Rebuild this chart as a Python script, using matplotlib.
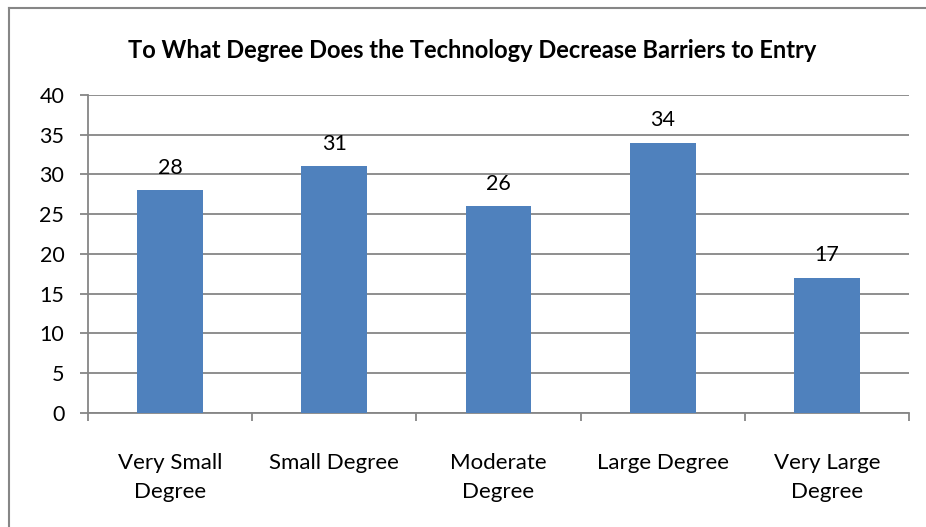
import numpy as np
import matplotlib.pyplot as plt
from matplotlib.lines import Line2D

# Dati
categorie = ['Very Small\nDegree', 'Small Degree', 'Moderate\nDegree', 'Large Degree', 'Very Large\nDegree']
valori = [28, 31, 26, 34, 17]
titolo = 'To What Degree Does the Technology Decrease Barriers to Entry'

plt.rcParams['font.family'] = ['Lato', 'DejaVu Sans']

grigio = '#868686'
blu = '#4F81BD'

fig = plt.figure(figsize=(9.26, 5.27), dpi=100)
ax = fig.add_axes([0.095, 0.2169, 0.8866, 0.6028])

x = np.arange(len(valori))
ax.bar(x, valori, width=0.4, color=blu, zorder=3)

# etichette sopra le barre
for xi, v in zip(x, valori):
    ax.annotate(str(v), (xi, v), xytext=(0, 9), textcoords='offset points',
                ha='center', va='bottom', fontsize=15.5)

ax.set_xlim(-0.5, len(valori) - 0.5)
ax.set_ylim(0, 40)
ax.set_yticks(np.arange(0, 41, 5))
ax.yaxis.grid(True, color=grigio, linewidth=1.3, zorder=0)

# tacche ai confini delle categorie, etichette al centro
ax.set_xticks(np.arange(-0.5, len(valori), 1.0))
ax.set_xticklabels([])
ax.set_xticks(x, minor=True)
ax.set_xticklabels(categorie, minor=True, fontsize=16, linespacing=1.55)
ax.tick_params(axis='x', which='major', length=6, width=1.3, color=grigio, direction='out')
ax.tick_params(axis='x', which='minor', length=0, pad=29)
ax.tick_params(axis='y', length=6, width=1.3, color=grigio, labelsize=15.5, pad=11)

for s in ['top', 'right']:
    ax.spines[s].set_visible(False)
for s in ['left', 'bottom']:
    ax.spines[s].set_color(grigio)
    ax.spines[s].set_linewidth(1.3)

fig.text(0.51, 0.905, titolo, ha='center', va='center', fontsize=17, fontweight='bold')

# bordo esterno (solo sinistra e alto visibili)
fig.add_artist(Line2D([9/926, 9/926], [0, 1 - 8/527], color=grigio, linewidth=1.5))
fig.add_artist(Line2D([9/926, 1], [1 - 8/527, 1 - 8/527], color=grigio, linewidth=1.5))

plt.savefig('out.png', dpi=100, facecolor='white')
plt.close(fig)
